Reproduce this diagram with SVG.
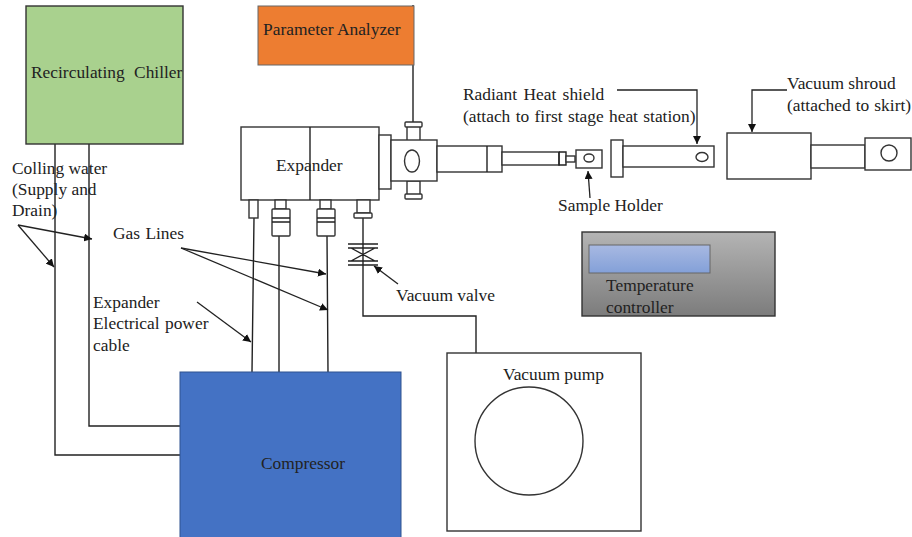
<svg xmlns="http://www.w3.org/2000/svg" width="912" height="537" viewBox="0 0 912 537">
<style>
text{font-family:"Liberation Serif","Times New Roman",serif;font-size:17.4px;fill:#222}
.l{fill:none;stroke:#222;stroke-width:1.4}
.w{fill:#fff;stroke:#333;stroke-width:1.4}
.a{fill:none;stroke:#222;stroke-width:1.3;marker-end:url(#m)}
</style>
<defs>
<marker id="m" markerUnits="userSpaceOnUse" markerWidth="10" markerHeight="8" refX="8" refY="4" orient="auto"><path d="M0 0L8 4L0 8z" fill="#111"/></marker>
<linearGradient id="g" x1="0" y1="0" x2="0" y2="1"><stop offset="0" stop-color="#b4b4b4"/><stop offset="1" stop-color="#7c7c7c"/></linearGradient>
<linearGradient id="b" x1="0" y1="0" x2="0" y2="1"><stop offset="0" stop-color="#a8b9e2"/><stop offset="1" stop-color="#83a0d8"/></linearGradient>
</defs>
<rect width="912" height="537" fill="#fff"/>
<g id="connectors">
<path class="l" d="M55 144V455H180M89 144V426H180"/>
<path class="l" d="M254 218L252 372M279 236V372M327 236L328 372"/>
<path class="l" d="M413 5V122M363 218V316H476V353"/>
<path class="a" d="M18 225L54 267"/>
<path class="a" d="M18 225L92 239"/>
<path class="a" d="M181 248L326 274"/>
<path class="a" d="M181 248L328 310"/>
<path class="a" d="M197 302L251 342"/>
<path class="a" d="M398 284L374 266"/>
<path class="a" d="M590 198L588 171"/>
<path class="a" d="M617 90H697V144"/>
<path class="a" d="M787 90H752V132"/>
</g>
<g id="chiller"><rect x="26" y="6" width="157" height="138" fill="#a9d18e" stroke="#333" stroke-width="1.4"/><text x="31" y="78" word-spacing="5">Recirculating Chiller</text></g>
<g id="analyzer"><rect x="258" y="6" width="156" height="59" fill="#ed7d31" stroke="#666"/><text x="263" y="35">Parameter Analyzer</text></g>
<g id="expander">
<rect class="w" x="241" y="127" width="138" height="73"/><path class="l" d="M310 127V200"/>
<rect class="w" x="379" y="135" width="12" height="54"/>
<rect class="w" x="249" y="200" width="9" height="18"/>
<rect class="w" x="275" y="200" width="11" height="9"/><rect class="w" x="272" y="209" width="18" height="27" rx="1"/><path class="l" d="M272 218H290M272 222H290"/>
<rect class="w" x="320" y="200" width="11" height="9"/><rect class="w" x="317" y="209" width="18" height="27" rx="1"/><path class="l" d="M317 218H335M317 222H335"/>
<rect class="w" x="357" y="200" width="13" height="13"/><rect class="w" x="354" y="213" width="18" height="5" rx="1"/>
<text x="276" y="171">Expander</text>
</g>
<g id="chamber">
<rect class="w" x="407" y="126" width="13" height="15"/><rect class="w" x="405" y="122" width="17" height="5" rx="1"/>
<rect class="w" x="407" y="181" width="13" height="14"/><rect class="w" x="405" y="194" width="17" height="5" rx="1"/>
<rect class="w" x="391" y="140" width="46" height="41"/><ellipse class="w" cx="412" cy="161" rx="7.5" ry="11"/>
<rect class="w" x="437" y="146" width="65" height="26"/><path class="l" d="M487 146V172"/>
<rect class="w" x="502" y="152" width="57" height="13"/><path class="l" d="M559 152H566V165H559V152"/>
<rect class="w" x="566" y="156" width="9" height="6"/>
</g>
<g id="sample-holder"><rect class="w" x="576" y="150" width="26" height="18"/><ellipse class="w" cx="589" cy="158" rx="5" ry="4"/><text x="558" y="211">Sample Holder</text></g>
<g id="heat-shield">
<rect class="w" x="611" y="140" width="12" height="37"/><rect class="w" x="623" y="146" width="91" height="21"/><ellipse class="w" cx="702" cy="157" rx="6" ry="4.5"/>
<text x="463" y="100" word-spacing="2">Radiant Heat shield</text><text x="463" y="122" word-spacing="1">(attach to first stage heat station)</text>
</g>
<g id="shroud">
<rect class="w" x="727" y="133" width="84" height="46"/><rect class="w" x="811" y="145" width="54" height="23"/><rect class="w" x="865" y="138" width="46" height="32"/><circle class="w" cx="889" cy="153" r="8"/>
<text x="787" y="89">Vacuum shroud</text><text x="787" y="111" word-spacing="0.7">(attached to skirt)</text>
</g>
<g id="valve">
<path class="l" d="M348 244H378M348 248H378M348 261H378M348 265H378M351 248L375 261M375 248L351 261"/>
<text x="396" y="301">Vacuum valve</text>
</g>
<g id="temperature-controller">
<rect x="582" y="232" width="193" height="84" fill="url(#g)" stroke="#333" stroke-width="1.4"/>
<rect x="589" y="245" width="121" height="28" fill="url(#b)" stroke="#666"/>
<text x="606" y="291">Temperature</text><text x="606" y="313">controller</text>
</g>
<g id="compressor"><rect x="180" y="372" width="221" height="170" fill="#4472c4" stroke="#2f528f"/><text x="261" y="469">Compressor</text></g>
<g id="vacuum-pump"><rect class="w" x="447" y="353" width="194" height="178"/><circle class="w" cx="529" cy="441" r="54"/><text x="503" y="380">Vacuum pump</text></g>
<g id="labels">
<text x="12" y="174">Colling water</text>
<text x="12" y="195">(Supply and</text>
<text x="12" y="216">Drain)</text>
<text x="113" y="239" word-spacing="1">Gas Lines</text>
<text x="93" y="308">Expander</text>
<text x="93" y="329" word-spacing="1">Electrical power</text>
<text x="93" y="351">cable</text>
</g>
</svg>
